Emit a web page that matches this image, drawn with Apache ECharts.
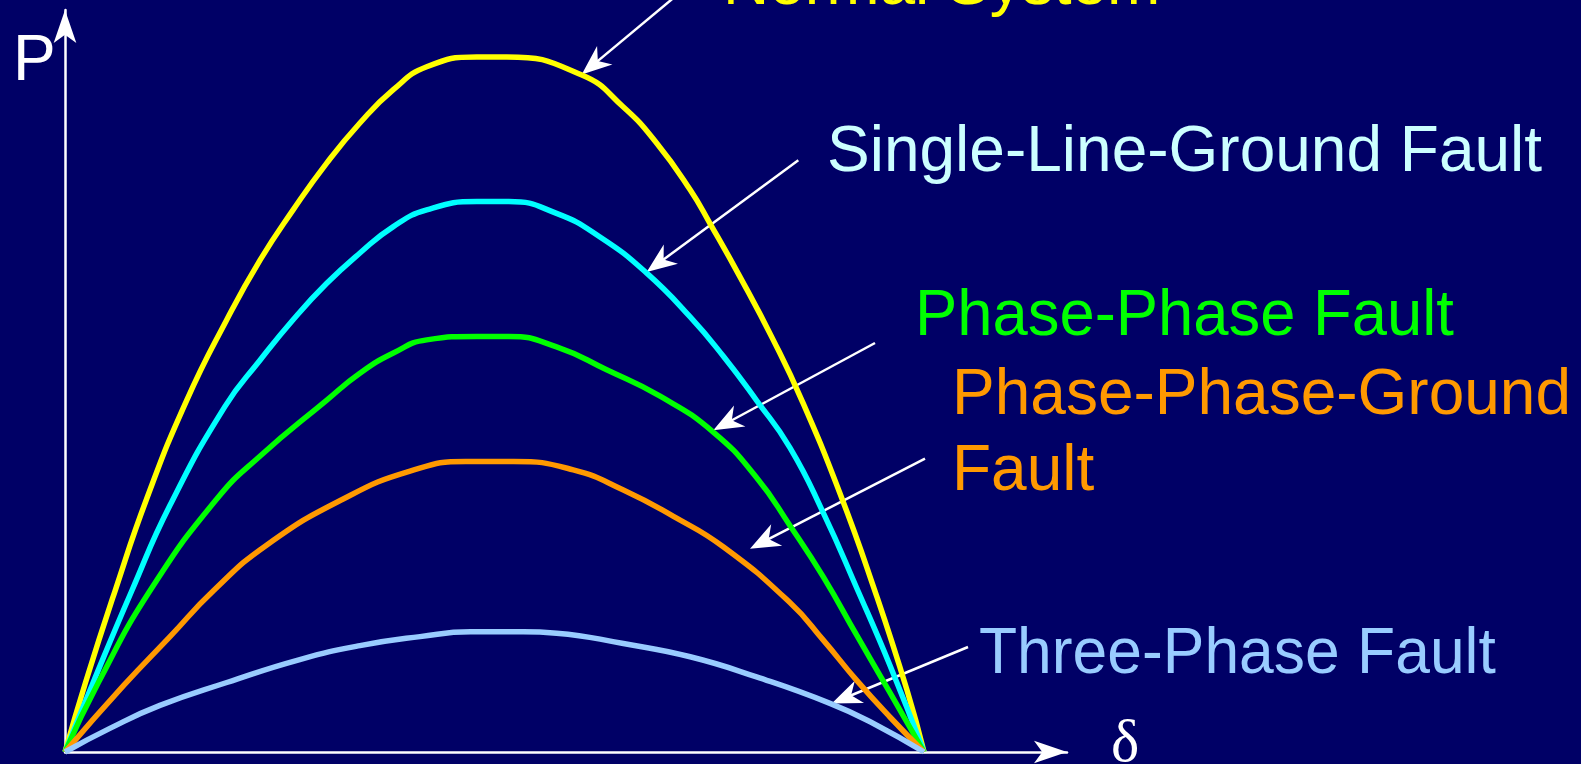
<!DOCTYPE html>
<html>
<head>
<meta charset="utf-8">
<script src="https://cdn.jsdelivr.net/npm/echarts@6/dist/echarts.min.js"></script>
<style>
  html, body { margin: 0; padding: 0; background: #000066; }
  #main { width: 1581px; height: 764px; }
</style>
</head>
<body>
<div id="main"></div>
<script>
// power-angle curves, [delta (deg), P / Pmax of the healthy system]
var normalSystem = [[0,0],[4.3,0.100],[10.5,0.232],[17.1,0.364],[25.5,0.506],[33.9,0.622],[40.9,0.708],[47.8,0.780],[54.8,0.847],[61.8,0.905],[68.8,0.953],[75.8,0.986],[86.3,1.0],[92.6,1.0],[108.3,0.974],[117.0,0.928],[124.0,0.876],[131.0,0.809],[135.2,0.760],[141.5,0.683],[148.4,0.593],[154.4,0.506],[162.4,0.372],[169.4,0.238],[176.4,0.090],[180,0]];
var singleLineGround = [[0,0],[5.9,0.100],[14.0,0.232],[22.0,0.355],[33.5,0.497],[40.9,0.564],[47.8,0.622],[54.8,0.674],[61.8,0.718],[68.8,0.756],[75.8,0.780],[86.3,0.792],[93,0.792],[103.0,0.775],[112.1,0.741],[121.9,0.689],[131.0,0.626],[138.0,0.569],[144.9,0.506],[151.9,0.438],[158.9,0.344],[165.9,0.236],[172.9,0.124],[180,0]];
var phasePhase = [[0,0],[7.0,0.100],[17.8,0.232],[31.8,0.364],[40.9,0.426],[54.8,0.506],[61.8,0.545],[68.8,0.574],[75.8,0.593],[86.3,0.598],[93,0.598],[103.0,0.583],[113.5,0.550],[124.7,0.512],[135.9,0.460],[144.9,0.395],[151.9,0.326],[158.9,0.252],[165.9,0.168],[172.9,0.085],[180,0]];
var phasePhaseGround = [[0,0],[12.2,0.095],[22.0,0.166],[31.1,0.232],[42.3,0.298],[58.3,0.364],[72.3,0.404],[84,0.418],[94,0.418],[106.5,0.406],[117.0,0.377],[127.5,0.339],[138.0,0.295],[151.9,0.215],[158.9,0.161],[165.9,0.103],[172.9,0.050],[180,0]];
var threePhase = [[0,0],[9.4,0.034],[19.9,0.067],[33.9,0.100],[49.2,0.133],[61.8,0.153],[74.4,0.166],[85,0.173],[96,0.173],[103.0,0.171],[117.0,0.156],[131.0,0.137],[144.9,0.108],[160.3,0.070],[169.4,0.041],[180,0]];

var seriesNames = ['Normal System', 'Single-Line-Ground Fault', 'Phase-Phase Fault', 'Phase-Phase-Ground Fault', 'Three-Phase Fault'];
var seriesData = [normalSystem, singleLineGround, phasePhase, phasePhaseGround, threePhase];
var lineColors = ['#ffff00', '#00ffff', '#00ff00', '#ff9900', '#99ccff'];

// label text, colour, left x, vertical middle y, horizontal squeeze
var labels = [
    ['Normal System', '#ffff00', 723, -14, 1],
    ['Single-Line-Ground Fault', '#ccffff', 827, 153, 1],
    ['Phase-Phase Fault', '#00ff00', 915, 317, 0.99],
    ['Phase-Phase-Ground', '#ff9900', 952, 396, 1],
    ['Fault', '#ff9900', 952, 472, 1],
    ['Three-Phase Fault', '#99ccff', 979, 655, 0.975]
];
// pointer arrows: start -> tip
var pointers = [
    [[683, -10], [581.7, 74.4]],
    [[798.3, 160.3], [646.7, 271.9]],
    [[875, 343], [713.3, 430.3]],
    [[925, 458.7], [750, 548.7]],
    [[968, 647], [831.7, 703.4]]
];

function arrowGraphic(s, t) {
    var dx = t[0] - s[0], dy = t[1] - s[1];
    var len = Math.sqrt(dx * dx + dy * dy);
    var ux = dx / len, uy = dy / len;
    var nx = -uy, ny = ux;
    var L = 30, W = 12;
    return [{
        type: 'line',
        shape: { x1: s[0], y1: s[1], x2: t[0] - ux * L * 0.6, y2: t[1] - uy * L * 0.6 },
        style: { stroke: '#ffffff', lineWidth: 2.5 }
    }, {
        type: 'polygon',
        shape: { points: [
            [t[0], t[1]],
            [t[0] - ux * L + nx * W, t[1] - uy * L + ny * W],
            [t[0] - ux * L * 0.7, t[1] - uy * L * 0.7],
            [t[0] - ux * L - nx * W, t[1] - uy * L - ny * W]
        ] },
        style: { fill: '#ffffff' }
    }];
}

var graphics = [];
labels.forEach(function (l) {
    graphics.push({
        type: 'text', x: l[2], y: l[3], scaleX: l[4],
        style: { text: l[0], fill: l[1], font: '64px "Liberation Sans", Arial, sans-serif', verticalAlign: 'middle' }
    });
});
pointers.forEach(function (p) {
    graphics = graphics.concat(arrowGraphic(p[0], p[1]));
});
graphics.push({
    type: 'text', x: 13, y: 62,
    style: { text: 'P', fill: '#ffffff', font: '64px "Liberation Sans", Arial, sans-serif', verticalAlign: 'middle' }
});
graphics.push({
    type: 'text', x: 1111, y: 745,
    style: { text: 'δ', fill: '#ffffff', font: '60px "Liberation Serif", "Times New Roman", serif', verticalAlign: 'middle' }
});

var chart = echarts.init(document.getElementById('main'));
chart.setOption({
    backgroundColor: '#000066',
    animation: false,
    grid: [
        { left: 65, right: 657, top: 57, bottom: 12 },
        { left: 65, right: 514, top: 10, bottom: 12 }
    ],
    xAxis: [
        { type: 'value', gridIndex: 0, min: 0, max: 180, show: false },
        {
            type: 'value', gridIndex: 1, min: 0, max: 1,
            axisLine: { show: true, symbol: ['none', 'arrow'], symbolSize: [17, 33], lineStyle: { color: '#ffffff', width: 2.5 } },
            axisTick: { show: false }, axisLabel: { show: false }, splitLine: { show: false }
        }
    ],
    yAxis: [
        { type: 'value', gridIndex: 0, min: 0, max: 1, show: false },
        {
            type: 'value', gridIndex: 1, min: 0, max: 1,
            axisLine: { show: true, symbol: ['none', 'arrow'], symbolSize: [17, 33], lineStyle: { color: '#ffffff', width: 2.5 } },
            axisTick: { show: false }, axisLabel: { show: false }, splitLine: { show: false }
        }
    ],
    series: seriesData.map(function (d, i) {
        return {
            name: seriesNames[i],
            type: 'line',
            xAxisIndex: 0,
            yAxisIndex: 0,
            data: d,
            smooth: 0.5,
            symbol: 'none',
            clip: false,
            lineStyle: { color: lineColors[i], width: 5.5 },
            itemStyle: { color: lineColors[i] }
        };
    }),
    graphic: graphics
});
</script>
</body>
</html>
